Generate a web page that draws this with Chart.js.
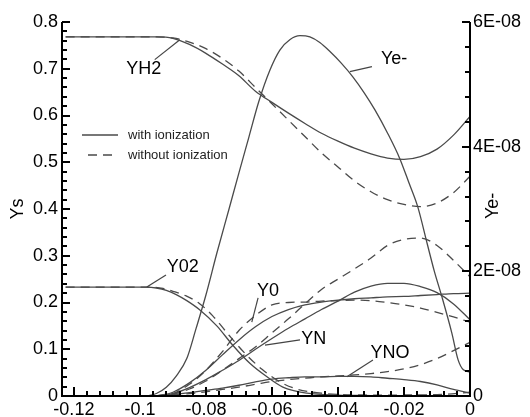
<!DOCTYPE html>
<html>
<head>
<meta charset="utf-8">
<script src="https://cdn.jsdelivr.net/npm/chart.js@4/dist/chart.umd.min.js"></script>
<style>
  body { margin: 0; background: #fff; }
  canvas { display: block; }
</style>
</head>
<body>
<canvas id="chart" width="530" height="417"></canvas>
<script>
// axis ticks
const xTicks = [-0.12, -0.1, -0.08, -0.06, -0.04, -0.02, 0];
const xTickLabels = ['-0.12', '-0.1', '-0.08', '-0.06', '-0.04', '-0.02', '0'];
const yTicks = [0, 0.1, 0.2, 0.3, 0.4, 0.5, 0.6, 0.7, 0.8];
const yTickLabels = ['0', '0.1', '0.2', '0.3', '0.4', '0.5', '0.6', '0.7', '0.8'];
const y2Ticks = [0, 2e-8, 4e-8, 6e-8];
const y2TickLabels = ['0', '2E-08', '4E-08', '6E-08'];

// YH2
const yh2X = [-0.1225, -0.095, -0.09, -0.085, -0.08, -0.075, -0.07, -0.065, -0.06, -0.055, -0.05, -0.045, -0.04, -0.035, -0.03, -0.025, -0.02, -0.015, -0.01, -0.005, 0];
const yh2With = [0.768, 0.768, 0.765, 0.752, 0.733, 0.71, 0.685, 0.652, 0.628, 0.605, 0.583, 0.562, 0.545, 0.53, 0.518, 0.509, 0.506, 0.512, 0.528, 0.558, 0.598];
const yh2Without = [0.768, 0.768, 0.766, 0.757, 0.743, 0.722, 0.695, 0.66, 0.625, 0.59, 0.555, 0.52, 0.49, 0.46, 0.437, 0.42, 0.41, 0.405, 0.413, 0.435, 0.47];

// Ye- (right axis, in units of 1E-08)
const yeX = [-0.098, -0.095, -0.092, -0.089, -0.0858, -0.083, -0.08, -0.0767, -0.073, -0.07, -0.067, -0.064, -0.0606, -0.0576, -0.0545, -0.0515, -0.0485, -0.0455, -0.0425, -0.039, -0.0355, -0.032, -0.0288, -0.025, -0.0212, -0.0185, -0.0158, -0.013, -0.0108, -0.0085, -0.0055, -0.0036, -0.002, 0];
const yeWith = [0, 0.04, 0.14, 0.32, 0.6, 1.08, 1.62, 2.29, 3.0, 3.58, 4.15, 4.72, 5.23, 5.55, 5.72, 5.78, 5.76, 5.67, 5.53, 5.34, 5.12, 4.86, 4.59, 4.22, 3.8, 3.42, 3.03, 2.45, 2.0, 1.59, 1.01, 0.58, 0.42, 0.385];
const yeUnit = 1e-8;

// Y02
const o2XWith = [-0.1225, -0.098, -0.095, -0.092, -0.089, -0.0858, -0.082, -0.0767, -0.0718, -0.0667, -0.0615, -0.0567, -0.0494, -0.04, -0.03, 0];
const o2With = [0.233, 0.233, 0.231, 0.226, 0.217, 0.204, 0.185, 0.15, 0.108, 0.07, 0.041, 0.019, 0.006, 0.002, 0.001, 0];
const o2XWithout = [-0.1225, -0.097, -0.093, -0.09, -0.086, -0.082, -0.078, -0.073, -0.068, -0.063, -0.058, -0.053, -0.045, -0.03, -0.01, 0];
const o2Without = [0.233, 0.233, 0.23, 0.224, 0.214, 0.198, 0.172, 0.13, 0.09, 0.057, 0.032, 0.016, 0.006, 0.002, 0.003, 0.008];

// Y0, YN, YNO
const lowX = [-0.095, -0.09, -0.085, -0.08, -0.075, -0.07, -0.065, -0.06, -0.055, -0.05, -0.045, -0.04, -0.035, -0.03, -0.025, -0.02, -0.015, -0.01, -0.005, 0];
const oWith = [0, 0.008, 0.028, 0.055, 0.088, 0.12, 0.148, 0.17, 0.185, 0.195, 0.201, 0.205, 0.208, 0.21, 0.212, 0.213, 0.215, 0.217, 0.219, 0.22];
const oWithout = [0, 0.005, 0.025, 0.055, 0.095, 0.14, 0.172, 0.195, 0.2, 0.201, 0.203, 0.204, 0.205, 0.204, 0.2, 0.195, 0.188, 0.179, 0.169, 0.158];
const nWith = [0, 0.005, 0.018, 0.035, 0.055, 0.076, 0.1, 0.123, 0.145, 0.165, 0.185, 0.203, 0.222, 0.235, 0.241, 0.241, 0.234, 0.221, 0.197, 0.163];
const nWithout = [0, 0.004, 0.015, 0.032, 0.055, 0.08, 0.105, 0.135, 0.165, 0.197, 0.228, 0.25, 0.272, 0.295, 0.322, 0.335, 0.338, 0.322, 0.29, 0.255];
const noWith = [0, 0.003, 0.007, 0.012, 0.017, 0.023, 0.03, 0.036, 0.039, 0.041, 0.041, 0.042, 0.042, 0.041, 0.038, 0.035, 0.031, 0.024, 0.014, 0.006];
const noWithout = [0, 0.002, 0.005, 0.009, 0.014, 0.019, 0.025, 0.031, 0.035, 0.038, 0.041, 0.043, 0.045, 0.048, 0.052, 0.058, 0.067, 0.08, 0.097, 0.115];

// curve labels: text position and leader line (data coords)
const curveLabels = [
    { text: 'YH2', tx: -0.0988, ty: 0.700, from: [-0.0955, 0.7195], to: [-0.0879, 0.762] },
    { text: 'Ye-', tx: -0.023, ty: 0.7216, from: [-0.0297, 0.7045], to: [-0.0364, 0.694] },
    { text: 'Y02', tx: -0.087, ty: 0.276, from: [-0.0921, 0.259], to: [-0.0979, 0.233] },
    { text: 'Y0', tx: -0.0612, ty: 0.225, from: [-0.0642, 0.21], to: [-0.0661, 0.158] },
    { text: 'YN', tx: -0.0473, ty: 0.122, from: [-0.0515, 0.12], to: [-0.0621, 0.109] },
    { text: 'YNO', tx: -0.0242, ty: 0.092, from: [-0.0294, 0.077], to: [-0.0373, 0.041] }
];

const lineColor = '#4a4a4a';
const dash = [9, 6];
const font = { family: 'Liberation Sans, Arial, sans-serif', size: 18 };

function pts(xs, ys, k) {
    return xs.map((x, i) => ({ x: x, y: ys[i] * (k || 1) }));
}

function series(xs, ys, dashed, axis, k) {
    return {
        data: pts(xs, ys, k),
        showLine: true,
        borderColor: lineColor,
        borderWidth: 1.3,
        borderDash: dashed ? dash : [],
        pointRadius: 0,
        cubicInterpolationMode: 'monotone',
        yAxisID: axis || 'y'
    };
}

const datasets = [
    series(yh2X, yh2With, false),
    series(yh2X, yh2Without, true),
    series(yeX, yeWith, false, 'y2', yeUnit),
    series(o2XWith, o2With, false),
    series(o2XWithout, o2Without, true),
    series(lowX, oWith, false),
    series(lowX, oWithout, true),
    series(lowX, nWith, false),
    series(lowX, nWithout, true),
    series(lowX, noWith, false),
    series(lowX, noWithout, true)
];

// axes, minor ticks, titles, legend and curve labels
const framePlugin = {
    id: 'frame',
    afterDraw(chart) {
        const c = chart.ctx;
        const a = chart.chartArea;
        const sx = chart.scales.x, sy = chart.scales.y, sy2 = chart.scales.y2;
        const L = Math.round(a.left), R = Math.round(a.right), B = Math.round(a.bottom), T = Math.round(a.top);
        c.save();
        c.fillStyle = '#000';

        // axis lines
        c.fillRect(L - 1, T, 2, B - T + 1);
        c.fillRect(L - 1, B - 1, R - L + 2, 2);
        c.fillRect(R - 1, T, 2, B - T + 1);

        // ticks, pointing inward (4 minor ticks between labels)
        for (let i = 0; i <= 30; i++) {
            const px = Math.round(sx.getPixelForValue(-0.12 + i * 0.004));
            const len = i % 5 === 0 ? 9 : 5;
            c.fillRect(px - 1, B - len, 2, len);
        }
        for (let i = 0; i <= 40; i++) {
            const py = Math.round(sy.getPixelForValue(i * 0.02));
            const len = i % 5 === 0 ? 8 : 5;
            c.fillRect(L, py - 1, len, 2);
        }
        for (let i = 0; i <= 15; i++) {
            const py = Math.round(sy2.getPixelForValue(i * 0.4e-8));
            const len = i % 5 === 0 ? 8 : 5;
            c.fillRect(R - len, py - 1, len, 2);
        }

        // axis titles
        c.font = '18px ' + font.family;
        c.textAlign = 'center';
        c.textBaseline = 'middle';
        c.save();
        c.translate(18, sy.getPixelForValue(0.4));
        c.rotate(-Math.PI / 2);
        c.fillText('Ys', 0, 0);
        c.restore();
        c.save();
        c.translate(a.right + 23, sy2.getPixelForValue(3.05e-8));
        c.rotate(-Math.PI / 2);
        c.fillText('Ye-', 0, 0);
        c.restore();

        // legend
        const lx = a.left + 20, ly = a.top + 113;
        c.strokeStyle = lineColor;
        c.lineWidth = 1.3;
        c.beginPath(); c.moveTo(lx, ly); c.lineTo(lx + 36, ly); c.stroke();
        c.setLineDash(dash);
        c.beginPath(); c.moveTo(lx + 6, ly + 20); c.lineTo(lx + 36, ly + 20); c.stroke();
        c.setLineDash([]);
        c.font = '13px ' + font.family;
        c.textAlign = 'left';
        c.fillStyle = '#222';
        c.fillText('with ionization', lx + 46, ly);
        c.fillText('without ionization', lx + 46, ly + 20);

        // curve labels with leader lines
        c.font = '18px ' + font.family;
        c.textAlign = 'center';
        c.fillStyle = '#000';
        c.strokeStyle = '#444';
        c.lineWidth = 1.2;
        curveLabels.forEach(l => {
            c.beginPath();
            c.moveTo(sx.getPixelForValue(l.from[0]), sy.getPixelForValue(l.from[1]));
            c.lineTo(sx.getPixelForValue(l.to[0]), sy.getPixelForValue(l.to[1]));
            c.stroke();
            c.fillText(l.text, sx.getPixelForValue(l.tx), sy.getPixelForValue(l.ty));
        });
        c.restore();
    }
};

const chart = new Chart(document.getElementById('chart').getContext('2d'), {
    type: 'scatter',
    data: { datasets: datasets },
    options: {
        responsive: false,
        animation: false,
        devicePixelRatio: 1,
        layout: { padding: { top: 22, left: 0, right: 0, bottom: 0 } },
        plugins: { legend: { display: false }, tooltip: { enabled: false } },
        scales: {
            x: {
                type: 'linear',
                min: -0.1236,
                max: 0,
                grid: { display: false, drawTicks: false },
                border: { display: false },
                afterBuildTicks: s => { s.ticks = xTicks.map(v => ({ value: v })); },
                afterFit: s => { s.height = 21; },
                ticks: { callback: (v, i) => xTickLabels[i], font: font, color: '#000', padding: 3, maxRotation: 0, autoSkip: false }
            },
            y: {
                position: 'left',
                min: 0,
                max: 0.8,
                grid: { display: false, drawTicks: false },
                border: { display: false },
                afterBuildTicks: s => { s.ticks = yTicks.map(v => ({ value: v })); },
                afterFit: s => { s.width = 62; },
                ticks: { callback: (v, i) => yTickLabels[i], font: font, color: '#000', padding: 4, autoSkip: false }
            },
            y2: {
                position: 'right',
                min: 0,
                max: 6e-8,
                grid: { display: false, drawTicks: false },
                border: { display: false },
                afterBuildTicks: s => { s.ticks = y2Ticks.map(v => ({ value: v })); },
                afterFit: s => { s.width = 60; },
                ticks: { callback: (v, i) => y2TickLabels[i], font: font, color: '#000', padding: 3, autoSkip: false }
            }
        }
    },
    plugins: [framePlugin]
});
</script>
</body>
</html>
